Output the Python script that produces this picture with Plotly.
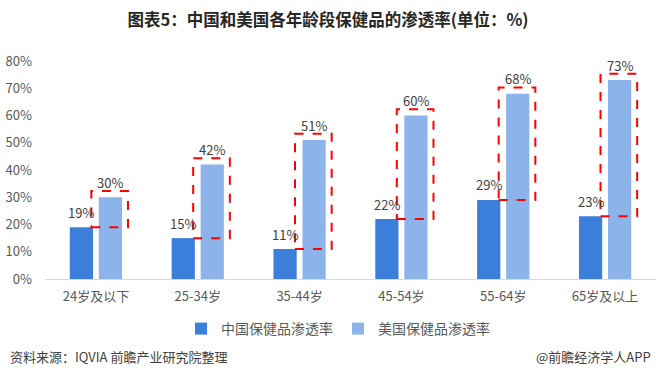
import plotly.graph_objects as go

categories = ["24岁及以下", "25-34岁", "35-44岁", "45-54岁", "55-64岁", "65岁及以上"]
china_values = [19, 15, 11, 22, 29, 23]
us_values = [30, 42, 51, 60, 68, 73]
y_ticks = [0, 10, 20, 30, 40, 50, 60, 70, 80]
y_tick_labels = [f"{v}%" for v in y_ticks]

FONT = "Noto Sans CJK SC, Microsoft YaHei, sans-serif"
C_CN = "#3B7FDB"
C_US = "#8DB4EA"
BARGAP = 0.43
BARGROUPGAP = 0.2

fig = go.Figure()
fig.add_trace(go.Bar(
    x=categories, y=china_values, name="中国保健品渗透率",
    marker=dict(color=C_CN, line=dict(width=0)),
))
fig.add_trace(go.Bar(
    x=categories, y=us_values, name="美国保健品渗透率",
    marker=dict(color=C_US, line=dict(width=0)),
))

# bar center offsets within a group (in category units)
slot = (1 - BARGAP) / 2
offsets = [-slot / 2, slot / 2]

for k, vals in enumerate([china_values, us_values]):
    for i, v in enumerate(vals):
        fig.add_annotation(x=i + offsets[k], y=v, xref="x", yref="y",
                           text=f"{v}%", showarrow=False,
                           xanchor="center", yanchor="middle", yshift=15,
                           font=dict(size=13, color="#404040", family=FONT))

# red dashed boxes around US bars from China level to above US level
for i, (c, u) in enumerate(zip(china_values, us_values)):
    fig.add_shape(type="rect", xref="x", yref="y",
                  x0=i - 0.045, x1=i + 0.315, y0=c, y1=u + 2.3,
                  line=dict(color="#FF0000", width=2, dash="dash"),
                  fillcolor="rgba(0,0,0,0)", layer="above")

W, H = 656, 389
ml, mr, mt, mb = 45, 0, 61, 110
pw = W - ml - mr
ph = H - mt - mb

def px(x):
    return (x - ml) / pw

def py(y):
    return (H - mb - y) / ph

fig.update_layout(
    width=W, height=H,
    margin=dict(l=ml, r=mr, t=mt, b=mb, autoexpand=False),
    paper_bgcolor="white", plot_bgcolor="white",
    barmode="group", bargap=BARGAP, bargroupgap=BARGROUPGAP,
    font=dict(family=FONT, size=12, color="#595959"),
    title=dict(text="<b>图表5：中国和美国各年龄段保健品的渗透率(单位：%)</b>",
               x=0.5, xref="container", xanchor="center",
               y=1 - 20 / H, yref="container", yanchor="middle",
               font=dict(size=16.5, color="#262626", family=FONT)),
    showlegend=True,
    legend=dict(orientation="h", x=px(338), xanchor="center",
                y=py(329), yanchor="middle",
                font=dict(size=14, color="#595959", family=FONT),
                tracegroupgap=0, traceorder="normal"),
    xaxis=dict(showline=True, linecolor="#D9D9D9", linewidth=1,
               ticks="", showgrid=False, ticklabelstandoff=5,
               tickfont=dict(size=13, color="#595959", family=FONT)),
    yaxis=dict(range=[0, 80], tickmode="array", tickvals=y_ticks, ticktext=y_tick_labels,
               showgrid=False, zeroline=False, showline=False, ticks="",
               tickfont=dict(size=13, color="#595959", family=FONT),
               ticklabelstandoff=12),
)

fig.add_annotation(text="资料来源：IQVIA 前瞻产业研究院整理", xref="paper", yref="paper",
                   x=px(8), y=py(356), xanchor="left", yanchor="middle",
                   showarrow=False, font=dict(size=13, color="#404040", family=FONT))
fig.add_annotation(text="@前瞻经济学人APP", xref="paper", yref="paper",
                   x=px(653), y=py(356), xanchor="right", yanchor="middle",
                   showarrow=False, font=dict(size=13, color="#404040", family=FONT))

fig.write_html("out.html", config={"displayModeBar": False},
               post_script="document.body.style.margin='0px';")
